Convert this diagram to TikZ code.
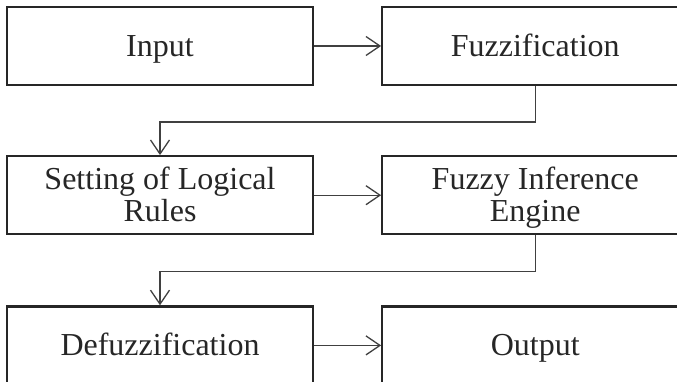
\documentclass[tikz,border=0pt]{standalone}
\usepackage{fontspec}
\setmainfont{Liberation Serif}
\usetikzlibrary{calc, positioning, arrows.meta}

\tikzset{
  stage/.style={draw=black!85, line width=2.2pt, minimum width=306pt, minimum height=78pt,
    inner sep=0pt, align=center, text=black!85,
    font=\fontsize{32}{32}\selectfont},
  oneline/.style={stage, text height=22pt, text depth=1pt},
  twoline/.style={stage, text height=54pt, text depth=1pt},
  flow/.style={draw=black!75, line width=1.3pt, -{Straight Barb[length=14pt, width=19pt]}}
}

\begin{document}
\begin{tikzpicture}[x=1pt, y=1pt]
  \clip (0,0) rectangle (677,-382);
  \node[oneline] (input) at (160,-46) {Input};
  \node[oneline, right=67pt of input] (fuzz) {Fuzzification};
  \node[twoline, below=69pt of input] (rules) {Setting of Logical\\Rules};
  \node[twoline, right=67pt of rules] (engine) {Fuzzy Inference\\Engine};
  \node[oneline, below=70pt of rules] (defuzz) {Defuzzification};
  \node[oneline, right=67pt of defuzz] (output) {Output};
  \coordinate (bendA) at ($(fuzz.south)!.52!(rules.north)$);
  \coordinate (bendB) at ($(engine.south)!.52!(defuzz.north)$);
  \draw[flow] (input) -- (fuzz);
  \draw[flow] (fuzz.south) |- (bendA) -| (rules.north);
  \draw[flow] (rules) -- (engine);
  \draw[flow] (engine.south) |- (bendB) -| (defuzz.north);
  \draw[flow] (defuzz) -- (output);
\end{tikzpicture}
\end{document}
